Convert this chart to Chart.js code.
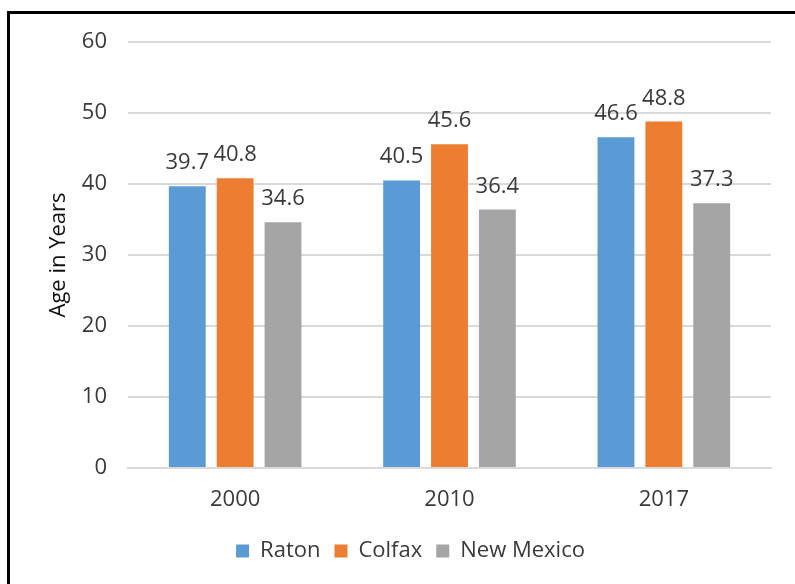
<!DOCTYPE html>
<html>
<head>
<meta charset="utf-8">
<script src="https://cdn.jsdelivr.net/npm/chart.js@4"></script>
<style>
    html, body { margin: 0; padding: 0; background: #fff; }
    #marco {
        position: absolute; left: 7px; top: 11px; width: 900px; height: 700px;
        border-left: 3px solid #000; border-top: 3px solid #000;
    }
    #grafica { position: absolute; left: 0; top: 0; }
</style>
</head>
<body>
<div id="marco"></div>
<canvas id="grafica" width="795" height="584"></canvas>
<script>
// ── Datos ─────────────────────────────────────────────────────
const anios       = ['2000', '2010', '2017'];
const raton       = [39.7, 40.5, 46.6];
const colfax      = [40.8, 45.6, 48.8];
const nuevoMexico = [34.6, 36.4, 37.3];
const ticksY      = [0, 10, 20, 30, 40, 50, 60];

const FUENTE = "'Open Sans', 'Liberation Sans', sans-serif";

// ── Etiquetas encima de cada barra ────────────────────────────
const etiquetasBarras = {
    id: 'etiquetasBarras',
    afterDatasetsDraw(chart) {
        const { ctx } = chart;
        ctx.save();
        ctx.font = `22px ${FUENTE}`;
        ctx.fillStyle = '#3a3a3a';
        ctx.textAlign = 'center';
        ctx.textBaseline = 'alphabetic';
        chart.data.datasets.forEach((ds, i) => {
            chart.getDatasetMeta(i).data.forEach((barra, j) => {
                ctx.fillText(ds.data[j].toFixed(1), barra.x, barra.y - 17);
            });
        });
        ctx.restore();
    }
};

// La leyenda del original está un poco corrida a la derecha
const moverLeyenda = {
    id: 'moverLeyenda',
    afterLayout(chart) {
        const ley = chart.legend;
        if (!ley) return;
        ley.left  += 25;
        ley.right += 25;
    }
};

new Chart(document.getElementById('grafica'), {
    type: 'bar',
    data: {
        labels: anios,
        datasets: [
            { label: 'Raton',      data: raton,       backgroundColor: '#5B9BD5' },
            { label: 'Colfax',     data: colfax,      backgroundColor: '#ED7D31' },
            { label: 'New Mexico', data: nuevoMexico, backgroundColor: '#A5A5A5' },
        ]
    },
    options: {
        responsive: false,
        animation: false,
        categoryPercentage: 0.67,
        barPercentage: 0.77,
        layout: { padding: { top: 42, right: 24, bottom: 12, left: 0 } },
        plugins: {
            tooltip: { enabled: false },
            legend: {
                position: 'bottom',
                labels: {
                    boxWidth: 13, boxHeight: 13, padding: 14,
                    color: '#3a3a3a',
                    font: { family: FUENTE, size: 22 }
                }
            }
        },
        scales: {
            x: {
                grid: { display: false, drawTicks: false },
                border: { color: '#D9D9D9', width: 2 },
                ticks: { color: '#3a3a3a', padding: 19, font: { family: FUENTE, size: 22 } },
                afterFit: s => { s.height = 58; }
            },
            y: {
                min: 0, max: 60,
                afterBuildTicks: s => { s.ticks = ticksY.map(v => ({ value: v })); },
                grid: { color: '#D9D9D9', lineWidth: 2, drawTicks: false },
                border: { display: false },
                ticks: { color: '#3a3a3a', padding: 21, font: { family: FUENTE, size: 22 } },
                title: {
                    display: true, text: 'Age in Years', color: '#111',
                    font: { family: FUENTE, size: 22 },
                    padding: { top: 46, bottom: 0 }
                },
                afterFit: s => { s.width = 128; }
            }
        }
    },
    plugins: [etiquetasBarras, moverLeyenda]
});
</script>
</body>
</html>
